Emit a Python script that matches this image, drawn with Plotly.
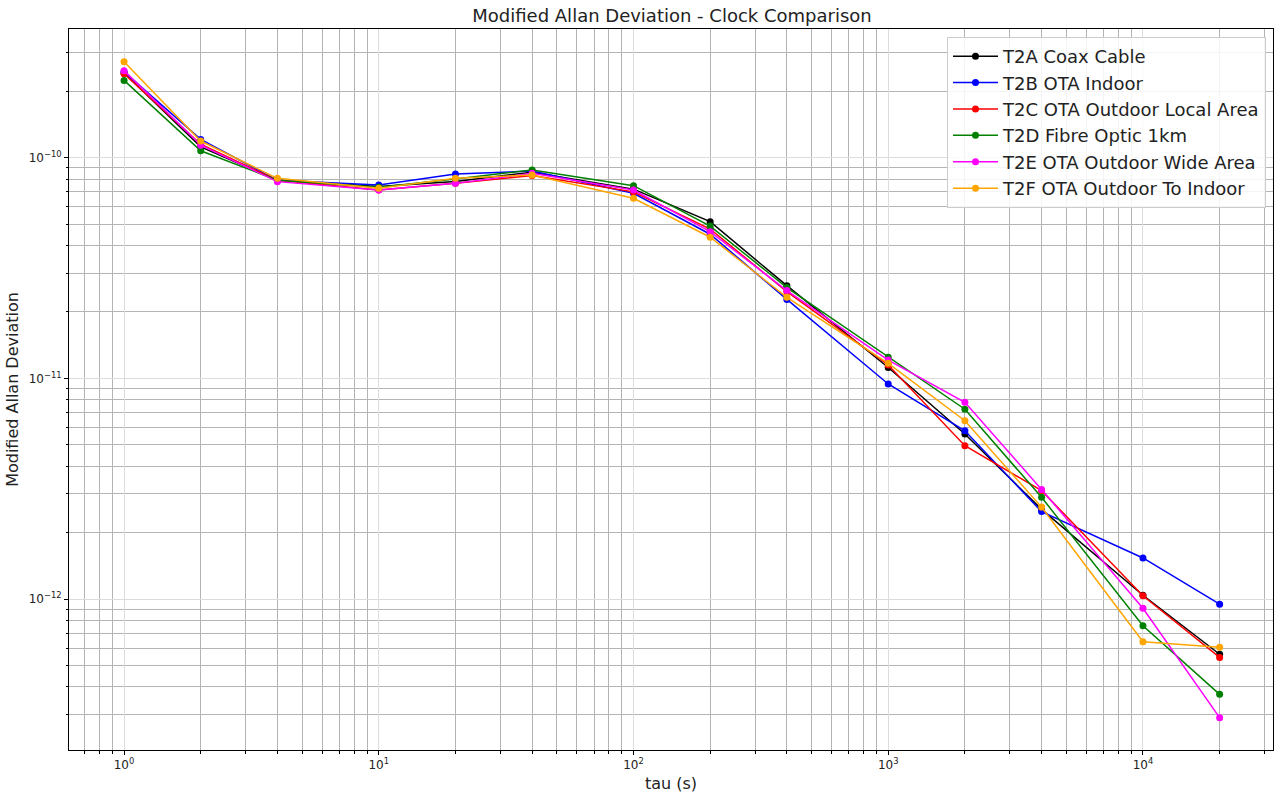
import plotly.graph_objects as go
import numpy as np

tau = [1, 2, 4, 10, 20, 40, 100, 200, 400, 1000, 2000, 4000, 10000, 20000]

t2a = [2.42e-10, 1.12e-10, 7.9e-11, 7.4e-11, 7.8e-11, 8.6e-11, 7.2e-11, 5.13e-11, 2.63e-11, 1.12e-11, 5.6e-12, 2.55e-12, 1.04e-12, 5.62e-13]
t2b = [2.45e-10, 1.21e-10, 7.9e-11, 7.52e-11, 8.43e-11, 8.7e-11, 6.9e-11, 4.5e-11, 2.28e-11, 9.43e-12, 5.79e-12, 2.49e-12, 1.535e-12, 9.48e-13]
t2c = [2.40e-10, 1.15e-10, 7.9e-11, 7.14e-11, 7.65e-11, 8.3e-11, 7.0e-11, 4.75e-11, 2.47e-11, 1.15e-11, 4.95e-12, 3.1e-12, 1.035e-12, 5.44e-13]
t2d = [2.24e-10, 1.075e-10, 7.9e-11, 7.35e-11, 8.0e-11, 8.8e-11, 7.47e-11, 4.9e-11, 2.58e-11, 1.246e-11, 7.25e-12, 2.89e-12, 7.57e-13, 3.70e-13]
t2e = [2.48e-10, 1.14e-10, 7.79e-11, 7.14e-11, 7.65e-11, 8.5e-11, 7.14e-11, 4.62e-11, 2.5e-11, 1.21e-11, 7.79e-12, 3.14e-12, 9.08e-13, 2.90e-13]
t2f = [2.72e-10, 1.19e-10, 8.06e-11, 7.27e-11, 8.06e-11, 8.35e-11, 6.55e-11, 4.36e-11, 2.33e-11, 1.17e-11, 6.43e-12, 2.61e-12, 6.4e-13, 6.04e-13]

names = ["T2A Coax Cable", "T2B OTA Indoor", "T2C OTA Outdoor Local Area",
         "T2D Fibre Optic 1km", "T2E OTA Outdoor Wide Area", "T2F OTA Outdoor To Indoor"]
colors = ["black", "blue", "red", "green", "magenta", "orange"]
series = [t2a, t2b, t2c, t2d, t2e, t2f]

x_decades = [0, 1, 2, 3, 4]
x_minor_decades = [-1, 0, 1, 2, 3, 4]
y_decades = [-12, -11, -10]
y_minor_decades = [-14, -13, -12, -11, -10, -9]

fig = go.Figure()
for n, c, s in zip(names, colors, series):
    fig.add_trace(go.Scatter(x=tau, y=s, name=n, mode="lines+markers",
                             line=dict(color=c, width=1.5),
                             marker=dict(color=c, size=7)))

def sup(e):
    return "10<sup>" + str(e).replace("-", "\u2212") + "</sup>"

xmaj = [10.0 ** d for d in x_decades]
xmin = [m * 10.0 ** d for d in x_minor_decades for m in range(2, 10)]
ymaj = [10.0 ** d for d in y_decades]
ymin = [m * 10.0 ** d for d in y_minor_decades for m in range(2, 10)]

axis_common = dict(type="log", showline=True, linecolor="black", linewidth=1,
                   mirror=True, ticks="outside", ticklen=4, tickcolor="black",
                   showgrid=True, gridcolor="#dcdcdc", gridwidth=1,
                   zeroline=False, automargin=False,
                   tickfont=dict(family="DejaVu Sans", size=12, color="#222"))
minor_common = dict(ticks="outside", ticklen=2.5, tickcolor="black",
                    showgrid=True, gridcolor="#b4b4b4", gridwidth=1)

fig.update_xaxes(**axis_common, tickmode="array", tickvals=xmaj,
                 ticktext=[sup(d) for d in x_decades],
                 minor=dict(**minor_common, tickmode="array", tickvals=xmin),
                 range=[np.log10(0.608), np.log10(32400)],
                 title=dict(text="tau (s)", font=dict(family="DejaVu Sans", size=16, color="#222"), standoff=6))
fig.update_yaxes(**axis_common, tickmode="array", tickvals=ymaj,
                 ticktext=[sup(d) for d in y_decades],
                 minor=dict(**minor_common, tickmode="array", tickvals=ymin),
                 range=[np.log10(2.07e-13), np.log10(3.83e-10)],
                 title=dict(text="Modified Allan Deviation", font=dict(family="DejaVu Sans", size=16, color="#222"), standoff=6))

fig.update_layout(
    width=1279, height=800,
    margin=dict(l=69, r=6, t=29, b=50),
    paper_bgcolor="white", plot_bgcolor="white",
    title=dict(text="Modified Allan Deviation - Clock Comparison", x=672 / 1279,
               xanchor="center", y=1 - 16 / 800, yanchor="middle",
               font=dict(family="DejaVu Sans", size=18, color="#222")),
    legend=dict(x=(947 - 69) / (1273 - 69), y=0.989, xanchor="left", yanchor="top",
                bgcolor="rgba(255,255,255,0.85)", bordercolor="#cccccc", borderwidth=1,
                itemwidth=45,
                font=dict(family="DejaVu Sans", size=18, color="#222")),
    font=dict(family="DejaVu Sans"),
)

fig.write_html("out.html", config={"displayModeBar": False},
               post_script="document.body.style.margin='0';document.body.style.overflow='hidden';")
